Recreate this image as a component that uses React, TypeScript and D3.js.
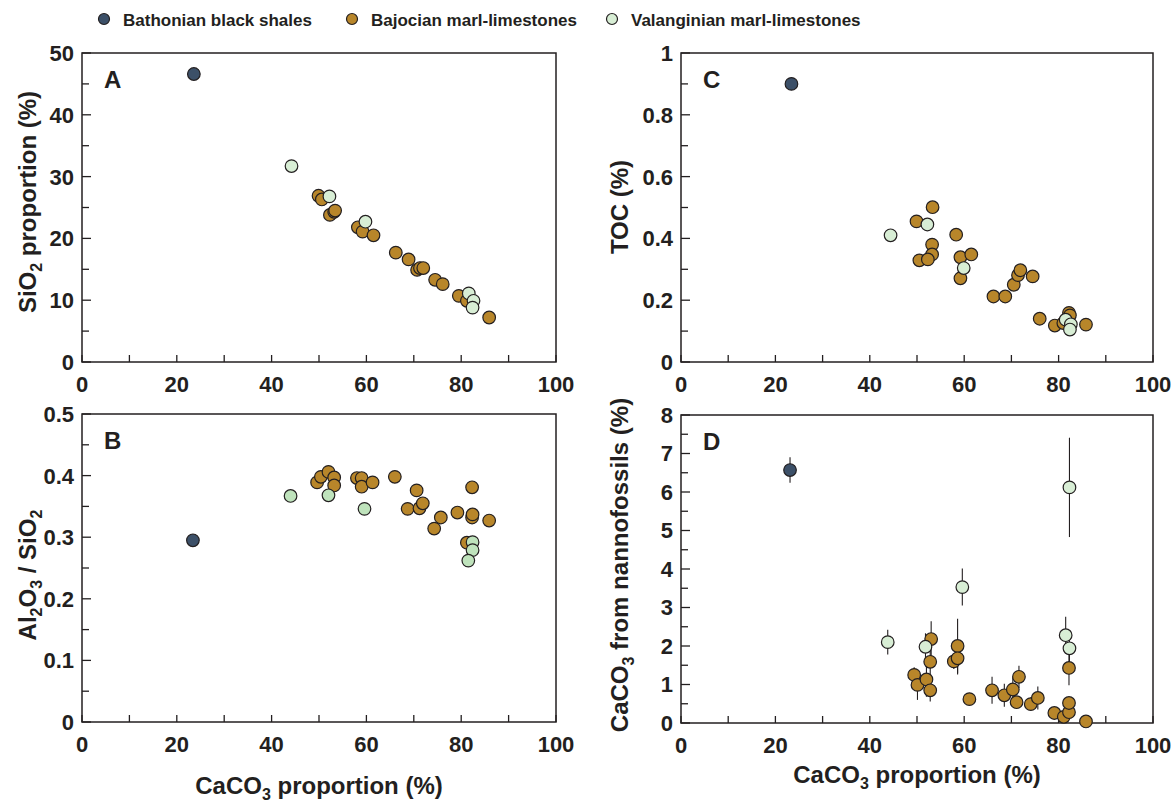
import React from "react";
import * as d3 from "d3";

// ---------- data ----------
const SERIES = ["Bathonian black shales", "Bajocian marl-limestones", "Valanginian marl-limestones"];
const COLORS = ["#3c5068", "#b8862a", "#d8eed5"];
const COLORS_B = ["#3c5068", "#b8862a", "#bfe3bc"];

// Panel A: CaCO3 (%) vs SiO2 (%)
const bathA = [[23.6, 46.6]];
const bajA = [[49.9, 26.9], [50.6, 26.3], [52.3, 23.8], [53.2, 24.3], [53.4, 24.5], [58.2, 21.8], [59.2, 21.1], [61.5, 20.5], [66.2, 17.7], [68.9, 16.6], [70.7, 14.9], [71.3, 15.2], [72.0, 15.2], [74.5, 13.3], [76.1, 12.6], [79.5, 10.7], [81.2, 9.9], [85.9, 7.2]];
const valA = [[44.2, 31.7], [52.2, 26.8], [59.8, 22.7], [81.6, 11.1], [82.6, 9.9], [82.4, 8.8]];

// Panel B: CaCO3 (%) vs Al2O3/SiO2
const bathB = [[23.4, 0.295]];
const bajB = [[49.6, 0.389], [50.4, 0.398], [52.0, 0.406], [53.2, 0.397], [53.2, 0.384], [58.0, 0.396], [59.0, 0.396], [59.0, 0.382], [61.3, 0.389], [66.0, 0.398], [70.6, 0.376], [68.7, 0.346], [71.2, 0.347], [71.9, 0.355], [74.3, 0.314], [75.7, 0.332], [79.2, 0.340], [82.3, 0.381], [82.3, 0.332], [82.4, 0.337], [85.9, 0.327], [81.2, 0.291]];
const valB = [[44.0, 0.367], [52.0, 0.368], [59.6, 0.346], [82.4, 0.292], [82.4, 0.279], [81.5, 0.262]];

// Panel C: CaCO3 (%) vs TOC (%)
const bathC = [[23.4, 0.9]];
const bajC = [[49.9, 0.455], [53.3, 0.501], [53.2, 0.38], [53.2, 0.348], [50.5, 0.329], [52.3, 0.332], [58.3, 0.412], [59.2, 0.339], [59.2, 0.271], [61.5, 0.348], [66.2, 0.212], [68.7, 0.212], [70.5, 0.25], [71.4, 0.281], [71.9, 0.297], [74.5, 0.277], [76.0, 0.14], [79.2, 0.118], [81.0, 0.126], [82.2, 0.159], [82.4, 0.151], [85.8, 0.121]];
const valC = [[44.4, 0.41], [52.2, 0.445], [59.9, 0.304], [81.5, 0.137], [82.6, 0.122], [82.4, 0.105]];

// Panel D: CaCO3 (%) vs CaCO3 from nannofossils (%) with error (±)
const bathD = [[23.1, 6.57, 0.33]];
const bajD = [[53.0, 2.18, 0.46], [52.8, 1.59, 0.42], [49.4, 1.25, 0.2], [50.1, 0.99, 0.39], [52.0, 1.13, 0.45], [52.8, 0.85, 0.29], [58.6, 2.0, 0.71], [57.8, 1.6, 0.2], [58.6, 1.68, 0.42], [61.1, 0.62, 0.1], [65.9, 0.85, 0.35], [68.5, 0.72, 0.3], [70.3, 0.87, 0.32], [71.1, 0.54, 0.15], [71.6, 1.2, 0.29], [74.1, 0.49, 0.17], [75.6, 0.65, 0.3], [79.1, 0.26, 0.1], [81.1, 0.16, 0.2], [82.2, 0.28, 0.1], [82.2, 0.52, 0.15], [82.2, 1.43, 0.45], [85.8, 0.04, 0]];
const valD = [[43.8, 2.1, 0.32], [51.8, 1.98, 0.35], [59.6, 3.53, 0.48], [81.5, 2.28, 0.48], [82.3, 1.94, 0.35], [82.3, 6.12, 1.29]];

const X_TICKS = [0, 20, 40, 60, 80, 100];

// ---------- layout ----------
const FONT = "'Liberation Sans', Arial, Helvetica, sans-serif";
const INK = "#231f20";
const TICK_FS = 22;
const TITLE_FS = 24;
const SUB_FS = 16;

type Panel = {
  letter: string;
  x0: number; x1: number; y0: number; y1: number;
  yMax: number; major: number; minor: number;
  data: number[][][];
  colors: string[];
  errors?: boolean;
};

const panels: Panel[] = [
  { letter: "A", x0: 82, x1: 556, y0: 53, y1: 362, yMax: 50, major: 10, minor: 5, data: [bathA, bajA, valA], colors: COLORS },
  { letter: "B", x0: 82, x1: 556, y0: 414, y1: 722, yMax: 0.5, major: 0.1, minor: 0.05, data: [bathB, bajB, valB], colors: COLORS_B },
  { letter: "C", x0: 681, x1: 1153, y0: 53, y1: 362, yMax: 1, major: 0.2, minor: 0.1, data: [bathC, bajC, valC], colors: COLORS },
  { letter: "D", x0: 681, x1: 1153, y0: 415, y1: 723, yMax: 8, major: 1, minor: 0.5, data: [bathD, bajD, valD], colors: COLORS, errors: true },
];

function fmt(v: number) {
  return String(+v.toFixed(2));
}

function PanelView({ p }: { p: Panel }) {
  const x = d3.scaleLinear().domain([0, 100]).range([p.x0, p.x1]);
  const y = d3.scaleLinear().domain([0, p.yMax]).range([p.y1, p.y0]);
  const nMinor = Math.round(p.yMax / p.minor);
  const yMinor = d3.range(0, nMinor + 1).map((i) => i * p.minor);
  const nMajor = Math.round(p.yMax / p.major);
  const yMajor = d3.range(0, nMajor + 1).map((i) => i * p.major);
  const xMinor = d3.range(0, 11).map((i) => i * 10);
  return (
    <g>
      {yMinor.map((v, i) => {
        const isMajor = Math.abs(v / p.major - Math.round(v / p.major)) < 1e-6;
        return <line key={"ym" + i} x1={p.x0} x2={p.x0 + (isMajor ? 9 : 7)} y1={y(v)} y2={y(v)} stroke={INK} strokeWidth={1.3} />;
      })}
      {xMinor.map((v, i) => (
        <line key={"xm" + i} x1={x(v)} x2={x(v)} y1={p.y1} y2={p.y1 - 7} stroke={INK} strokeWidth={1.3} />
      ))}
      {yMajor.map((v, i) => (
        <text key={"yl" + i} x={p.x0 - 8} y={y(v)} dy="0.36em" textAnchor="end" fontFamily={FONT} fontWeight="bold" fontSize={TICK_FS} fill={INK}>{fmt(v)}</text>
      ))}
      {X_TICKS.map((v, i) => (
        <text key={"xl" + i} x={x(v)} y={p.y1 + 30} textAnchor="middle" fontFamily={FONT} fontWeight="bold" fontSize={TICK_FS} fill={INK}>{v}</text>
      ))}
      <rect x={p.x0} y={p.y0} width={p.x1 - p.x0} height={p.y1 - p.y0} fill="none" stroke={INK} strokeWidth={1.5} />
      <text x={p.x0 + 22} y={p.y0 + 35} fontFamily={FONT} fontWeight="bold" fontSize={24} fill={INK}>{p.letter}</text>
      {p.errors && p.data.map((s, si) => s.map((d, i) => d[2] > 0 ? (
        <line key={"e" + si + "-" + i} x1={x(d[0])} x2={x(d[0])} y1={y(Math.min(p.yMax, d[1] + d[2]))} y2={y(Math.max(0, d[1] - d[2]))} stroke={INK} strokeWidth={1.1} />
      ) : null))}
      {p.data.map((s, si) => s.map((d, i) => (
        <circle key={"c" + si + "-" + i} cx={x(d[0])} cy={y(d[1])} r={6.3} fill={p.colors[si]} stroke={INK} strokeWidth={1.2} />
      )))}
    </g>
  );
}

function Title({ transform, x, y, parts }: { transform?: string; x?: number; y?: number; parts: [string, boolean][] }) {
  // parts: [text, isSubscript]
  let prevSub = false;
  return (
    <text transform={transform} x={x} y={y} textAnchor="middle" fontFamily={FONT} fontWeight="bold" fontSize={TITLE_FS} fill={INK}>
      {parts.map(([t, sub], i) => {
        const dy = sub && !prevSub ? 6 : !sub && prevSub ? -6 : 0;
        prevSub = sub;
        return <tspan key={i} dy={dy} fontSize={sub ? SUB_FS : TITLE_FS}>{t}</tspan>;
      })}
    </text>
  );
}

export default function App() {
  const legendX = [104, 352, 612];
  return (
    <svg width={1175} height={805} style={{ position: "absolute", left: 0, top: 0, background: "#fff" }}>
      <rect x={0} y={0} width={1175} height={805} fill="#fff" />
      {SERIES.map((s, i) => (
        <g key={s}>
          <circle cx={legendX[i]} cy={19} r={5.5} fill={COLORS[i]} stroke={INK} strokeWidth={1.2} />
          <text x={legendX[i] + 19} y={25.5} fontFamily={FONT} fontWeight="bold" fontSize={17} fill={INK}>{s}</text>
        </g>
      ))}
      {panels.map((p) => <PanelView key={p.letter} p={p} />)}

      <Title transform="translate(36,202) rotate(-90)" parts={[["SiO", false], ["2", true], [" proportion (%)", false]]} />
      <Title transform="translate(36,575) rotate(-90)" parts={[["Al", false], ["2", true], ["O", false], ["3", true], [" / SiO", false], ["2", true]]} />
      <Title transform="translate(628,207) rotate(-90)" parts={[["TOC (%)", false]]} />
      <Title transform="translate(628,565) rotate(-90)" parts={[["CaCO", false], ["3", true], [" from nannofossils (%)", false]]} />

      <Title x={319} y={794} parts={[["CaCO", false], ["3", true], [" proportion (%)", false]]} />
      <Title x={917} y={783} parts={[["CaCO", false], ["3", true], [" proportion (%)", false]]} />
    </svg>
  );
}
